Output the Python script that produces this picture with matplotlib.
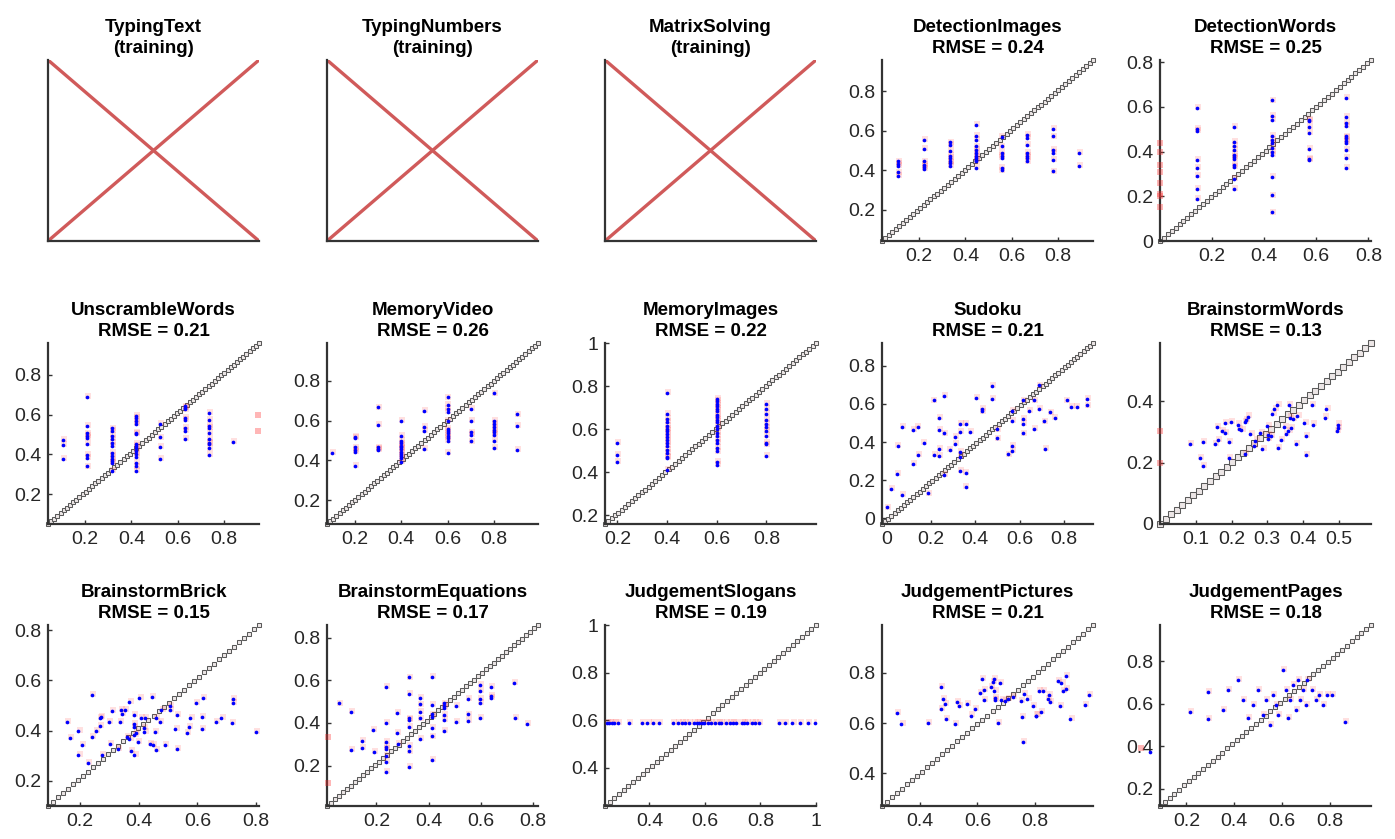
import numpy as np
import matplotlib
matplotlib.use("Agg")
import matplotlib.pyplot as plt
from matplotlib.ticker import FuncFormatter

plt.rcParams['font.family'] = ['Liberation Sans', 'DejaVu Sans']

# ---------------- data ----------------
training_titles = ["TypingText\n(training)", "TypingNumbers\n(training)", "MatrixSolving\n(training)"]

names = ["DetectionImages", "DetectionWords", "UnscrambleWords", "MemoryVideo", "MemoryImages",
         "Sudoku", "BrainstormWords", "BrainstormBrick", "BrainstormEquations",
         "JudgementSlogans", "JudgementPictures", "JudgementPages"]
rmse = [0.24, 0.25, 0.21, 0.26, 0.22, 0.21, 0.13, 0.15, 0.17, 0.19, 0.21, 0.18]

# DetectionImages: x in ninths
di_x = [1/9]*5 + [2/9]*6 + [3/9]*8 + [4/9]*11 + [5/9]*7 + [6/9]*7 + [7/9]*6 + [8/9]*2
di_y = [0.445, 0.433, 0.42, 0.389, 0.369,
        0.555, 0.508, 0.445, 0.428, 0.416, 0.406,
        0.541, 0.53, 0.496, 0.474, 0.462, 0.445, 0.437, 0.423,
        0.631, 0.575, 0.555, 0.521, 0.504, 0.487, 0.474, 0.462, 0.453, 0.445, 0.411,
        0.568, 0.521, 0.487, 0.474, 0.462, 0.411, 0.399,
        0.58, 0.563, 0.53, 0.487, 0.474, 0.462, 0.445,
        0.611, 0.572, 0.504, 0.487, 0.453, 0.394,
        0.487, 0.42]

# DetectionWords: x in sevenths
dw_x = [1/7]*8 + [2/7]*11 + [3/7]*12 + [4/7]*7 + [5/7]*11
dw_y = [0.596, 0.501, 0.491, 0.362, 0.325, 0.29, 0.234, 0.189,
        0.51, 0.445, 0.427, 0.408, 0.385, 0.377, 0.367, 0.34, 0.332, 0.279, 0.231,
        0.629, 0.558, 0.54, 0.472, 0.453, 0.438, 0.415, 0.397, 0.385, 0.287, 0.204, 0.128,
        0.543, 0.536, 0.51, 0.483, 0.412, 0.367, 0.362,
        0.642, 0.555, 0.528, 0.513, 0.468, 0.46, 0.448, 0.438, 0.408, 0.37, 0.328]
dw_rx = [0.0]*8
dw_ry = [0.44, 0.40, 0.34, 0.31, 0.26, 0.21, 0.20, 0.15]

# UnscrambleWords
uw_x = [0.105]*3 + [0.21]*9 + [0.315]*12 + [0.42]*15 + [0.525]*4 + [0.63]*8 + [0.735]*10 + [0.84]*1
uw_y = [0.471, 0.447, 0.379,
        0.689, 0.544, 0.505, 0.493, 0.481, 0.454, 0.396, 0.382, 0.34,
        0.531, 0.519, 0.493, 0.476, 0.459, 0.442, 0.408, 0.391, 0.379, 0.365, 0.357, 0.318,
        0.595, 0.583, 0.566, 0.553, 0.51, 0.502, 0.451, 0.442, 0.434, 0.416, 0.403, 0.386, 0.357, 0.34, 0.318,
        0.553, 0.485, 0.437, 0.379,
        0.641, 0.635, 0.626, 0.583, 0.573, 0.532, 0.519, 0.476,
        0.607, 0.573, 0.544, 0.532, 0.51, 0.476, 0.459, 0.451, 0.43, 0.396,
        0.464]
uw_rx = [0.945, 0.945]
uw_ry = [0.60, 0.52]

# MemoryVideo: tenths
mv_x = [0.1]*1 + [0.2]*6 + [0.3]*5 + [0.4]*12 + [0.5]*4 + [0.6]*12 + [0.7]*5 + [0.8]*9 + [0.9]*3
mv_y = [0.436,
        0.519, 0.512, 0.465, 0.451, 0.444, 0.374,
        0.666, 0.58, 0.465, 0.456, 0.451,
        0.6, 0.524, 0.499, 0.485, 0.473, 0.465, 0.456, 0.444, 0.434, 0.422, 0.41, 0.393,
        0.648, 0.57, 0.55, 0.456,
        0.717, 0.677, 0.66, 0.643, 0.6, 0.558, 0.55, 0.536, 0.524, 0.512, 0.499, 0.439,
        0.657, 0.6, 0.541, 0.529, 0.495,
        0.737, 0.597, 0.584, 0.567, 0.553, 0.541, 0.529, 0.499, 0.461,
        0.631, 0.572, 0.453]

# MemoryImages
mi_x = [0.2]*3 + [0.4]*17 + [0.6]*20 + [0.8]*11
mi_y = [0.537, 0.481, 0.449,
        0.767, 0.671, 0.648, 0.632, 0.616, 0.6, 0.592, 0.576, 0.565, 0.552, 0.537, 0.521, 0.505, 0.489, 0.473, 0.465, 0.41,
        0.74, 0.73, 0.719, 0.708, 0.695, 0.683, 0.667, 0.656, 0.644, 0.632, 0.616, 0.6, 0.584, 0.568, 0.552, 0.537,
        0.513, 0.497, 0.449, 0.433,
        0.719, 0.695, 0.671, 0.644, 0.624, 0.608, 0.592, 0.568, 0.537, 0.529, 0.476]

# Sudoku
su_x = [0.002, 0.022, 0.047, 0.05, 0.07, 0.07, 0.119, 0.119, 0.14, 0.142, 0.167, 0.187, 0.212, 0.215,
        0.237, 0.237, 0.237, 0.237, 0.26, 0.26, 0.26, 0.284, 0.309, 0.309, 0.332, 0.332, 0.332, 0.332,
        0.332, 0.356, 0.356, 0.356, 0.377, 0.402, 0.429, 0.429, 0.474, 0.474, 0.5, 0.5, 0.546, 0.567,
        0.567, 0.567, 0.567, 0.617, 0.617, 0.617, 0.617, 0.642, 0.665, 0.665, 0.687, 0.687, 0.711,
        0.714, 0.735, 0.757, 0.811, 0.831, 0.856, 0.904, 0.904]
su_y = [0.057, 0.154, 0.234, 0.38, 0.481, 0.122, 0.287, 0.464, 0.481, 0.331, 0.396, 0.131, 0.619, 0.331,
        0.527, 0.464, 0.366, 0.326, 0.641, 0.446, 0.228, 0.361, 0.428, 0.389, 0.496, 0.455, 0.349, 0.322,
        0.248, 0.496, 0.237, 0.166, 0.455, 0.632, 0.575, 0.561, 0.694, 0.627, 0.467, 0.419, 0.336, 0.565,
        0.513, 0.381, 0.354, 0.619, 0.522, 0.494, 0.446, 0.565, 0.619, 0.471, 0.697, 0.573, 0.508,
        0.363, 0.556, 0.526, 0.619, 0.584, 0.584, 0.628, 0.593]

# BrainstormWords
bw_x = [0.083, 0.111, 0.12, 0.12, 0.153, 0.158, 0.162, 0.172, 0.181, 0.198, 0.181, 0.193, 0.193, 0.218,
        0.221, 0.227, 0.237, 0.24, 0.246, 0.237, 0.252, 0.263, 0.267, 0.28, 0.286, 0.3, 0.302, 0.302,
        0.309, 0.314, 0.319, 0.328, 0.33, 0.337, 0.347, 0.351, 0.359, 0.36, 0.363, 0.365, 0.372, 0.379,
        0.384, 0.404, 0.407, 0.407, 0.424, 0.428, 0.46, 0.465, 0.497, 0.497, 0.495]
bw_y = [0.26, 0.216, 0.267, 0.188, 0.261, 0.317, 0.274, 0.302, 0.33, 0.333, 0.297, 0.266, 0.216, 0.324,
        0.31, 0.306, 0.332, 0.339, 0.35, 0.228, 0.294, 0.254, 0.272, 0.297, 0.243, 0.319, 0.291, 0.277,
        0.286, 0.358, 0.374, 0.388, 0.247, 0.274, 0.317, 0.293, 0.302, 0.388, 0.347, 0.313, 0.341, 0.261,
        0.352, 0.33, 0.286, 0.224, 0.388, 0.324, 0.347, 0.374, 0.324, 0.313, 0.304]
bw_rx = [0.0, 0.0]
bw_ry = [0.302, 0.199]

# BrainstormBrick
bb_x = [0.154, 0.165, 0.194, 0.194, 0.206, 0.226, 0.239, 0.24, 0.253, 0.267, 0.271, 0.267, 0.274, 0.297,
        0.3, 0.309, 0.328, 0.336, 0.339, 0.342, 0.353, 0.359, 0.368, 0.368, 0.374, 0.382, 0.382, 0.382,
        0.385, 0.385, 0.391, 0.397, 0.402, 0.408, 0.417, 0.419, 0.422, 0.439, 0.446, 0.448, 0.456, 0.457,
        0.459, 0.471, 0.477, 0.49, 0.507, 0.507, 0.525, 0.531, 0.531, 0.565, 0.57, 0.576, 0.594, 0.616,
        0.616, 0.619, 0.663, 0.682, 0.717, 0.72, 0.722, 0.8]
bb_y = [0.436, 0.369, 0.398, 0.301, 0.342, 0.27, 0.54, 0.375, 0.398, 0.449, 0.456, 0.42, 0.301, 0.436,
        0.348, 0.476, 0.328, 0.436, 0.483, 0.466, 0.483, 0.375, 0.513, 0.366, 0.317, 0.463, 0.425, 0.416,
        0.382, 0.301, 0.389, 0.355, 0.528, 0.449, 0.412, 0.396, 0.449, 0.348, 0.533, 0.342, 0.396, 0.452,
        0.321, 0.436, 0.483, 0.342, 0.497, 0.483, 0.406, 0.463, 0.325, 0.389, 0.416, 0.452, 0.51, 0.456,
        0.406, 0.53, 0.433, 0.452, 0.429, 0.524, 0.51, 0.393]

# BrainstormEquations
be_x = [0.056, 0.101, 0.101, 0.143, 0.145, 0.187, 0.19, 0.238, 0.238, 0.238, 0.238, 0.238, 0.238, 0.238,
        0.238, 0.28, 0.28, 0.283, 0.325, 0.325, 0.325, 0.325, 0.325, 0.325, 0.325, 0.325, 0.368, 0.368,
        0.368, 0.368, 0.368, 0.414, 0.414, 0.414, 0.414, 0.414, 0.414, 0.414, 0.458, 0.458, 0.458, 0.458,
        0.458, 0.458, 0.505, 0.505, 0.55, 0.55, 0.55, 0.597, 0.597, 0.597, 0.597, 0.597, 0.641, 0.641,
        0.641, 0.728, 0.73, 0.776]
be_y = [0.492, 0.453, 0.274, 0.314, 0.282, 0.366, 0.263, 0.568, 0.402, 0.311, 0.287, 0.279, 0.247, 0.216,
        0.172, 0.449, 0.353, 0.303, 0.614, 0.536, 0.421, 0.413, 0.382, 0.292, 0.266, 0.195, 0.516, 0.487,
        0.453, 0.421, 0.323, 0.618, 0.484, 0.44, 0.429, 0.378, 0.337, 0.228, 0.492, 0.481, 0.472, 0.437,
        0.416, 0.363, 0.479, 0.405, 0.511, 0.44, 0.41, 0.579, 0.552, 0.511, 0.495, 0.424, 0.568, 0.528,
        0.516, 0.587, 0.424, 0.394]
be_rx = [0.012, 0.012]
be_ry = [0.334, 0.116]

# JudgementSlogans
js_x = [0.246, 0.256, 0.266, 0.274, 0.287, 0.327, 0.372, 0.393, 0.412, 0.433, 0.485, 0.502, 0.518, 0.527,
        0.543, 0.559, 0.571, 0.579, 0.588, 0.598, 0.61, 0.622, 0.637, 0.649, 0.659, 0.677, 0.689, 0.701,
        0.713, 0.732, 0.741, 0.75, 0.768, 0.78, 0.793, 0.866, 0.888, 0.915, 0.941, 0.97, 0.998]
js_y = [0.588, 0.587, 0.588, 0.587, 0.588, 0.587, 0.588, 0.588, 0.587, 0.588, 0.588, 0.587, 0.588, 0.588,
        0.587, 0.588, 0.588, 0.587, 0.588, 0.588, 0.587, 0.588, 0.588, 0.588, 0.587, 0.588, 0.588, 0.587,
        0.588, 0.588, 0.587, 0.588, 0.588, 0.587, 0.588, 0.588, 0.587, 0.588, 0.588, 0.587, 0.588]

# JudgementPictures
jp_x = [0.321, 0.337, 0.43, 0.474, 0.474, 0.481, 0.489, 0.491, 0.523, 0.529, 0.535, 0.563, 0.578, 0.591,
        0.609, 0.617, 0.623, 0.623, 0.648, 0.654, 0.656, 0.659, 0.662, 0.662, 0.671, 0.679, 0.683, 0.694,
        0.705, 0.722, 0.751, 0.753, 0.759, 0.762, 0.773, 0.793, 0.802, 0.804, 0.814, 0.819, 0.827, 0.844,
        0.847, 0.85, 0.879, 0.885, 0.891, 0.896, 0.907, 0.907, 0.922, 0.971, 0.985]
jp_y = [0.638, 0.595, 0.601, 0.743, 0.654, 0.694, 0.677, 0.615, 0.597, 0.684, 0.668, 0.674, 0.63, 0.654,
        0.72, 0.774, 0.731, 0.691, 0.744, 0.763, 0.776, 0.727, 0.701, 0.691, 0.601, 0.758, 0.691, 0.687,
        0.694, 0.705, 0.687, 0.625, 0.526, 0.714, 0.697, 0.668, 0.63, 0.63, 0.727, 0.643, 0.727, 0.697,
        0.71, 0.684, 0.767, 0.668, 0.76, 0.727, 0.787, 0.734, 0.617, 0.67, 0.71]

# JudgementPages
jg_x = [0.05, 0.216, 0.29, 0.29, 0.353, 0.373, 0.415, 0.436, 0.456, 0.477, 0.498, 0.519, 0.531, 0.548,
        0.56, 0.573, 0.581, 0.602, 0.614, 0.622, 0.631, 0.643, 0.656, 0.664, 0.672, 0.685, 0.697, 0.705,
        0.726, 0.739, 0.755, 0.768, 0.788, 0.809, 0.863]
jg_y = [0.374, 0.56, 0.53, 0.655, 0.57, 0.665, 0.712, 0.618, 0.533, 0.594, 0.665, 0.547, 0.618, 0.5,
        0.641, 0.594, 0.547, 0.759, 0.665, 0.533, 0.618, 0.688, 0.57, 0.712, 0.618, 0.665, 0.594, 0.712,
        0.665, 0.618, 0.641, 0.594, 0.641, 0.641, 0.515]
jg_rx = [0.012]
jg_ry = [0.393]

panel_x = [di_x, dw_x, uw_x, mv_x, mi_x, su_x, bw_x, bb_x, be_x, js_x, jp_x, jg_x]
panel_y = [di_y, dw_y, uw_y, mv_y, mi_y, su_y, bw_y, bb_y, be_y, js_y, jp_y, jg_y]
extra_rx = [[], dw_rx, uw_rx, [], [], [], bw_rx, [], be_rx, [], [], jg_rx]
extra_ry = [[], dw_ry, uw_ry, [], [], [], bw_ry, [], be_ry, [], [], jg_ry]

xlims = [(0.04, 0.95), (0.0, 0.81), (0.04, 0.95), (0.08, 0.99), (0.15, 1.0), (-0.02, 0.93),
         (0.0, 0.59), (0.09, 0.81), (0.01, 0.82), (0.24, 1.0), (0.27, 1.0), (0.09, 0.97)]
ylims = [(0.04, 0.96), (0.0, 0.81), (0.05, 0.96), (0.08, 0.99), (0.16, 1.0), (-0.03, 0.92),
         (0.0, 0.59), (0.1, 0.82), (0.01, 0.86), (0.24, 1.0), (0.27, 0.99), (0.12, 0.97)]
xticks = [[0.2, 0.4, 0.6, 0.8], [0.2, 0.4, 0.6, 0.8], [0.2, 0.4, 0.6, 0.8], [0.2, 0.4, 0.6, 0.8],
          [0.2, 0.4, 0.6, 0.8], [0, 0.2, 0.4, 0.6, 0.8], [0.1, 0.2, 0.3, 0.4, 0.5],
          [0.2, 0.4, 0.6, 0.8], [0.2, 0.4, 0.6, 0.8], [0.4, 0.6, 0.8, 1], [0.4, 0.6, 0.8],
          [0.2, 0.4, 0.6, 0.8]]
yticks = [[0.2, 0.4, 0.6, 0.8], [0, 0.2, 0.4, 0.6, 0.8], [0.2, 0.4, 0.6, 0.8], [0.2, 0.4, 0.6, 0.8],
          [0.2, 0.4, 0.6, 0.8, 1], [0, 0.2, 0.4, 0.6, 0.8], [0, 0.2, 0.4],
          [0.2, 0.4, 0.6, 0.8], [0.2, 0.4, 0.6, 0.8], [0.4, 0.6, 0.8, 1], [0.4, 0.6, 0.8],
          [0.2, 0.4, 0.6, 0.8]]

# ---------------- styling ----------------
W, H = 1395, 839
col_left = [48, 327, 605, 882, 1160]
row_top = [60, 343, 625]
ax_w, ax_h = 211, 181
# diagonal marker count and square size (pixels) per panel
diag_n = [62, 55, 68, 68, 64, 68, 39, 43, 54, 46, 43, 45]
diag_px = [3.8, 4.3, 3.4, 3.4, 3.6, 3.4, 6.0, 5.0, 4.1, 4.7, 5.0, 4.8]

spine_c = '#333333'
fmt = FuncFormatter(lambda v, p: ('%g' % round(v, 6)))

fig = plt.figure(figsize=(W / 100, H / 100), dpi=100)


def make_ax(r, c):
    l = col_left[c] / W
    b = 1 - (row_top[r] + ax_h) / H
    ax = fig.add_axes([l, b, ax_w / W, ax_h / H])
    for s in ['top', 'right']:
        ax.spines[s].set_visible(False)
    for s in ['left', 'bottom']:
        ax.spines[s].set_color(spine_c)
        ax.spines[s].set_linewidth(1.6)
    ax.tick_params(direction='in', length=3, width=1, colors=spine_c, labelsize=14, pad=5,
                   labelcolor='#262626')
    return ax


title_kw = dict(fontsize=13.5, fontweight='bold', pad=5, linespacing=1.35)

# training panels
for i, t in enumerate(training_titles):
    ax = make_ax(0, i)
    ax.set_xlim(0, 1)
    ax.set_ylim(0, 1)
    ax.set_xticks([])
    ax.set_yticks([])
    ax.plot([0, 1], [0, 1], color='#d05a5a', lw=2.4, solid_capstyle='round')
    ax.plot([0, 1], [1, 0], color='#d05a5a', lw=2.4, solid_capstyle='round')
    ax.set_title(t, **title_kw)

# data panels
for k in range(12):
    idx = k + 3
    r, c = divmod(idx, 5)
    ax = make_ax(r, c)
    x0, x1 = xlims[k]
    y0, y1 = ylims[k]
    ax.set_xlim(x0, x1)
    ax.set_ylim(y0, y1)
    # diagonal reference line of square markers
    dx = np.linspace(x0, x1, diag_n[k])
    dy = np.linspace(y0, y1, diag_n[k])
    ax.plot(dx, dy, ls='none', marker='s', ms=diag_px[k] * 0.72,
            mfc='#ece6e6', mec='#5a5a5a', mew=0.75, zorder=2, clip_on=False)
    px = np.array(panel_x[k])
    py = np.array(panel_y[k])
    # faint red underlay
    ax.scatter(px + 0.004, py + 0.004, s=14, marker='s', color='#ff3030', alpha=0.15, lw=0, zorder=3)
    if len(extra_rx[k]):
        ax.scatter(extra_rx[k], extra_ry[k], s=14, marker='s', color='#ff3030', alpha=0.35, lw=0,
                   zorder=3, clip_on=False)
    ax.scatter(px, py, s=7, color='#0000ff', lw=0, zorder=4, clip_on=False)
    ax.set_xticks(xticks[k])
    ax.set_yticks(yticks[k])
    ax.xaxis.set_major_formatter(fmt)
    ax.yaxis.set_major_formatter(fmt)
    ax.set_title(f"{names[k]}\nRMSE = {rmse[k]:.2f}", **title_kw)

fig.savefig('out.png', dpi=100)
